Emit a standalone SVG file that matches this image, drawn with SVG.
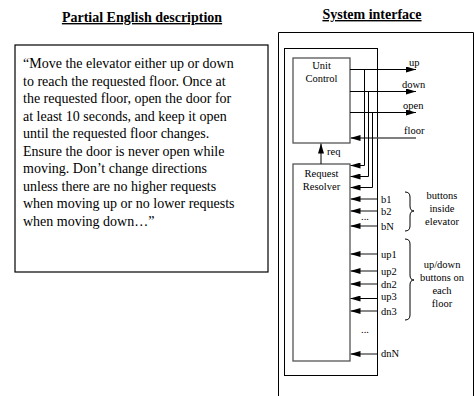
<svg xmlns="http://www.w3.org/2000/svg" width="475" height="396" viewBox="0 0 475 396">
<defs>
<marker id="ah" viewBox="0 0 10 6" refX="10" refY="3" markerWidth="10" markerHeight="6" markerUnits="userSpaceOnUse" orient="auto">
<path d="M0,0 L10,3 L0,6 Z" fill="#000"/>
</marker>
<style>
text{font-family:"Liberation Serif","Times New Roman",serif;fill:#000}
.h{font-size:14px;font-weight:bold;text-decoration:underline;text-anchor:middle}
.d{font-size:14px}
.s{font-size:10.5px}
.c{font-size:10.5px;text-anchor:middle}
.out{stroke:#000;stroke-width:1;fill:none}
.in{stroke:#555;stroke-width:1.4;fill:none}
.box{fill:#fff;stroke:#555;stroke-width:1.3}
</style>
</defs>
<rect width="475" height="396" fill="#fff"/>

<g id="description">
<text class="h" x="142" y="22">Partial English description</text>
<rect x="15" y="45" width="253" height="227" fill="#fff" stroke="#000" stroke-width="1.2"/>
<text class="d" x="23" y="68">“Move the elevator either up or down</text>
<text class="d" x="23" y="85.5">to reach the requested floor. Once at</text>
<text class="d" x="23" y="103">the requested floor, open the door for</text>
<text class="d" x="23" y="120.5">at least 10 seconds, and keep it open</text>
<text class="d" x="23" y="138">until the requested floor changes.</text>
<text class="d" x="23" y="155.5">Ensure the door is never open while</text>
<text class="d" x="23" y="173">moving. Don’t change directions</text>
<text class="d" x="23" y="190.5">unless there are no higher requests</text>
<text class="d" x="23" y="208">when moving up or no lower requests</text>
<text class="d" x="23" y="225.5">when moving down…”</text>
</g>

<g id="system">
<text class="h" x="372" y="19">System interface</text>
<path d="M278.5,400 V32.5 H473.5 V400" fill="none" stroke="#000" stroke-width="1"/>
<rect x="284.5" y="48.5" width="93" height="327" fill="none" stroke="#000" stroke-width="1"/>
</g>

<g id="unit-control">
<rect class="box" x="293" y="58" width="57" height="85"/>
<text class="c" x="321.5" y="69">Unit</text>
<text class="c" x="321.5" y="82">Control</text>
</g>

<g id="request-resolver">
<rect class="box" x="293" y="164" width="57" height="197"/>
<text class="c" x="321.5" y="177">Request</text>
<text class="c" x="321.5" y="190">Resolver</text>
</g>

<g id="connectors">
<line class="out" x1="321" y1="164" x2="321" y2="143.5" marker-end="url(#ah)"/>
<line class="out" x1="350" y1="69.5" x2="416" y2="69.5" marker-end="url(#ah)"/>
<line class="out" x1="350" y1="91.5" x2="416" y2="91.5" marker-end="url(#ah)"/>
<line class="out" x1="350" y1="112.5" x2="416" y2="112.5" marker-end="url(#ah)"/>
<line class="in" x1="416" y1="138" x2="350.5" y2="138" marker-end="url(#ah)"/>
<path class="out" d="M364.5,69.5 V165.5 H350.5" marker-end="url(#ah)"/>
<path class="out" d="M368.5,91.5 V176.5 H350.5" marker-end="url(#ah)"/>
<path class="out" d="M372.5,112.5 V187.5 H350.5" marker-end="url(#ah)"/>
<line class="in" x1="377" y1="199" x2="350.5" y2="199" marker-end="url(#ah)"/>
<line class="in" x1="377" y1="211" x2="350.5" y2="211" marker-end="url(#ah)"/>
<line class="in" x1="377" y1="226" x2="350.5" y2="226" marker-end="url(#ah)"/>
<line class="in" x1="377" y1="254" x2="350.5" y2="254" marker-end="url(#ah)"/>
<line class="in" x1="377" y1="271" x2="350.5" y2="271" marker-end="url(#ah)"/>
<line class="in" x1="377" y1="284" x2="350.5" y2="284" marker-end="url(#ah)"/>
<line class="out" x1="377" y1="298.5" x2="350.5" y2="298.5" marker-end="url(#ah)"/>
<line class="in" x1="377" y1="311" x2="350.5" y2="311" marker-end="url(#ah)"/>
<line class="in" x1="377" y1="354" x2="350.5" y2="354" marker-end="url(#ah)"/>
</g>

<g id="labels">
<text class="s" x="327" y="155">req</text>
<text class="s" x="409" y="66">up</text>
<text class="s" x="402" y="88">down</text>
<text class="s" x="403" y="109">open</text>
<text class="s" x="404" y="134">floor</text>
<text class="s" x="381" y="203">b1</text>
<text class="s" x="381" y="215">b2</text>
<text class="s" x="361" y="220">...</text>
<text class="s" x="381" y="230">bN</text>
<text class="s" x="381" y="258">up1</text>
<text class="s" x="381" y="275">up2</text>
<text class="s" x="381" y="288">dn2</text>
<text class="s" x="381" y="300">up3</text>
<text class="s" x="381" y="315">dn3</text>
<text class="s" x="361" y="333">...</text>
<text class="s" x="381" y="357">dnN</text>
</g>

<g id="brace-inside">
<path d="M405,192 Q410,192 410,197 V206 Q410,211 414,211 Q410,211 410,216 V226 Q410,231 405,231" fill="none" stroke="#000" stroke-width="1"/>
<text class="c" x="442" y="199">buttons</text>
<text class="c" x="442" y="212">inside</text>
<text class="c" x="442" y="225">elevator</text>
</g>

<g id="brace-floor">
<path d="M405,239 Q410,239 410,244 V275 Q410,280 414,280 Q410,280 410,285 V315 Q410,320 405,320" fill="none" stroke="#000" stroke-width="1"/>
<text class="c" x="442" y="268">up/down</text>
<text class="c" x="442" y="281">buttons on</text>
<text class="c" x="442" y="294">each</text>
<text class="c" x="442" y="307">floor</text>
</g>
</svg>
